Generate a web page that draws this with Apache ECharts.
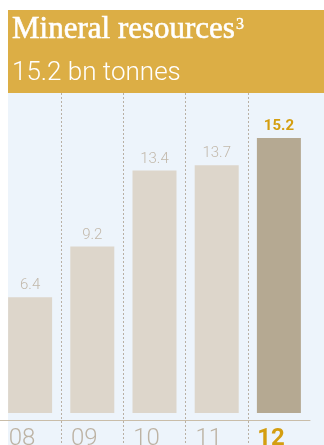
<!DOCTYPE html>
<html>
<head>
<meta charset="utf-8">
<script src="https://cdn.jsdelivr.net/npm/echarts@6/dist/echarts.min.js"></script>
<style>
  html, body { margin: 0; padding: 0; background: #ffffff; }
  #chart { width: 324px; height: 445px; }
</style>
</head>
<body>
<div id="chart"></div>
<script>
// Mineral resources by year (bn tonnes)
const years = ['08', '09', '10', '11', '12'];
const resources = [6.4, 9.2, 13.4, 13.7, 15.2];
const unit = 'bn tonnes';

const GOLD = '#dcae45';
const PANEL = '#edf4fb';
const BAR = '#ddd6cb';
const BAR_CURRENT = '#b5a992';
const LABEL_GREY = '#c2b8aa';
const LABEL_GOLD = '#d49e10';

const last = resources.length - 1;

const chart = echarts.init(document.getElementById('chart'), null, { renderer: 'canvas' });

chart.setOption({
  animation: false,
  backgroundColor: '#ffffff',
  graphic: {
    elements: [
      { type: 'rect', z: -10, left: 8, top: 10, shape: { width: 316, height: 83 }, style: { fill: GOLD } },
      { type: 'rect', z: -10, left: 8, top: 93, shape: { width: 316, height: 352 }, style: { fill: PANEL } }
    ]
  },
  title: [
    {
      text: 'Mineral resources{sup|3}',
      left: 7, top: 9,
      textStyle: {
        fontFamily: 'Liberation Serif', fontSize: 31, fontWeight: 'normal', color: '#ffffff',
        textBorderColor: '#ffffff', textBorderWidth: 0.6,
        rich: { sup: { fontFamily: 'Liberation Serif', fontSize: 16, color: '#ffffff', textBorderColor: '#ffffff', textBorderWidth: 0.4, verticalAlign: 'top', padding: [3, 0, 0, 1] } }
      }
    },
    {
      text: resources[last].toFixed(1) + ' ' + unit,
      left: 7, top: 55,
      textStyle: { fontFamily: 'Roboto', fontSize: 26, fontWeight: 300, color: '#ffffff' }
    }
  ],
  grid: { left: -1, right: 14, top: 93, bottom: 0, containLabel: false, outerBoundsMode: 'none' },
  xAxis: {
    type: 'category',
    data: years.map((y, i) => i === last
      ? { value: y, textStyle: { color: LABEL_GOLD, fontWeight: 'bold' } }
      : y),
    axisLine: { onZero: false, lineStyle: { color: '#c9bda9', width: 1 } },
    offset: -25,
    axisTick: { show: false },
    axisLabel: {
      margin: 7,
      fontFamily: 'Roboto', fontSize: 24, fontWeight: 300, color: '#bdb3a4',
      align: 'center', padding: [0, 16, 0, 0]
    },
    splitLine: {
      show: true,
      showMinLine: false,
      showMaxLine: false,
      lineStyle: { color: '#b9b0a4', width: 1, type: [2, 2] }
    }
  },
  yAxis: {
    type: 'value',
    min: -1.769, max: 17.687,
    show: false,
    splitLine: { show: false }
  },
  series: [{
    type: 'bar',
    barWidth: 44,
    data: resources.map((v, i) => ({
      value: v,
      itemStyle: { color: i === last ? BAR_CURRENT : BAR },
      label: i === last ? { color: LABEL_GOLD, fontWeight: 'bold' } : undefined
    })),
    label: {
      show: true, position: 'top', distance: 4,
      fontFamily: 'Roboto', fontSize: 15, fontWeight: 300, color: LABEL_GREY,
      formatter: p => p.value.toFixed(1)
    }
  }]
});
</script>
</body>
</html>
